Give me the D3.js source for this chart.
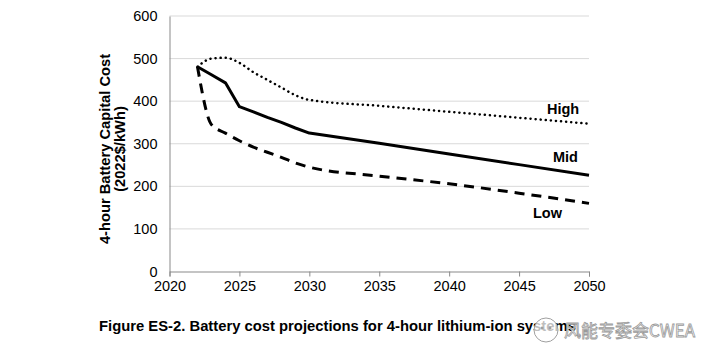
<!DOCTYPE html>
<html>
<head>
<meta charset="utf-8">
<script src="https://d3js.org/d3.v7.min.js"></script>
<style>
body { margin: 0; background: #fff; font-family: "Liberation Sans", Arial, sans-serif; }
svg { display: block; }
</style>
</head>
<body>
<svg width="718" height="363"></svg>
<script>
// values (2022$/kWh)
var years = [2022, 2023, 2024, 2025, 2026, 2027, 2028, 2029, 2030, 2035, 2040, 2045, 2050];
var high = [481, 500, 502, 490, 468, 450, 432, 414, 403, 389, 375, 361, 347];
var mid  = [481, 462, 443, 387, 375, 362, 350, 337, 325, 301, 276, 251, 226];
var low  = [481, 345, 325, 307, 292, 280, 268, 255, 245, 224, 206, 184, 160];
var xTicks = [2020, 2025, 2030, 2035, 2040, 2045, 2050];
var yTicks = [0, 100, 200, 300, 400, 500, 600];

var svg = d3.select("svg");
var x = d3.scaleLinear().domain([2020, 2050]).range([169.5, 589]);
var y = d3.scaleLinear().domain([0, 600]).range([271.5, 16]);

// grid
svg.append("g").selectAll("line")
  .data(yTicks.slice(1))
  .enter().append("line")
  .attr("x1", x(2020)).attr("x2", x(2050))
  .attr("y1", d => y(d)).attr("y2", d => y(d))
  .attr("stroke", "#d9d9d9").attr("stroke-width", 1);

// axes
var xAxis = svg.append("g")
  .attr("transform", "translate(0," + y(0) + ")")
  .call(d3.axisBottom(x).tickValues(xTicks).tickFormat(d3.format("d")).tickSize(5).tickPadding(4));
var yAxis = svg.append("g")
  .attr("transform", "translate(" + x(2020) + ",0)")
  .call(d3.axisLeft(y).tickValues(yTicks).tickSize(0).tickPadding(12));
[xAxis, yAxis].forEach(function(a){
  a.select(".domain").attr("stroke", "#898989");
  a.selectAll(".tick line").attr("stroke", "#898989");
  a.selectAll("text").attr("font-size", "14.5px").attr("fill", "#000")
    .attr("font-family", "'Liberation Sans', Arial, sans-serif");
});

var line = d3.line().x((d, i) => x(years[i])).y(d => y(d));

svg.append("path").datum(high).attr("d", line.curve(d3.curveMonotoneX))
  .attr("fill", "none").attr("stroke", "#000").attr("stroke-width", 2.5)
  .attr("stroke-dasharray", "0.1 5").attr("stroke-linecap", "round");
svg.append("path").datum(mid).attr("d", line.curve(d3.curveLinear))
  .attr("fill", "none").attr("stroke", "#000").attr("stroke-width", 3)
  .attr("stroke-linejoin", "round");
svg.append("path").datum(low).attr("d", line.curve(d3.curveMonotoneX))
  .attr("fill", "none").attr("stroke", "#000").attr("stroke-width", 3)
  .attr("stroke-dasharray", "10 7");

// series labels
var labels = [["High", 547, 114], ["Mid", 553, 162], ["Low", 533, 218]];
svg.selectAll("text.lbl").data(labels).enter().append("text")
  .attr("class", "lbl")
  .attr("x", d => d[1]).attr("y", d => d[2])
  .attr("font-size", "14.5px").attr("font-weight", "bold")
  .text(d => d[0]);

// y title
var yt = svg.append("text")
  .attr("transform", "translate(110,149) rotate(-90)")
  .attr("text-anchor", "middle").attr("font-size", "14.7px").attr("font-weight", "bold");
yt.append("tspan").attr("x", 0).attr("dy", 0).text("4-hour Battery Capital Cost");
yt.append("tspan").attr("x", 0).attr("dy", 14.5).text("(2022$/kWh)");

// caption
svg.append("text").attr("x", 99).attr("y", 331)
  .attr("font-size", "14.8px").attr("font-weight", "bold")
  .text("Figure ES-2. Battery cost projections for 4-hour lithium-ion systems");

// watermark
var wm = svg.append("g").attr("transform", "translate(546,330)");
wm.append("circle").attr("r", 12).attr("fill", "#fff").attr("fill-opacity", 0.75)
  .attr("stroke", "#a0a0a0").attr("stroke-width", 1);
wm.append("circle").attr("cx", -4).attr("cy", -2).attr("r", 1.5).attr("fill", "#a0a0a0");
wm.append("circle").attr("cx", 4).attr("cy", -2).attr("r", 1.5).attr("fill", "#a0a0a0");
svg.append("text").attr("x", 564).attr("y", 337)
  .attr("font-size", "17px").attr("fill", "#fff").attr("stroke", "#9a9a9a").attr("stroke-width", 0.8)
  .attr("font-family", "'Noto Sans CJK SC', sans-serif")
  .text("风能专委会CWEA");
</script>
</body>
</html>
